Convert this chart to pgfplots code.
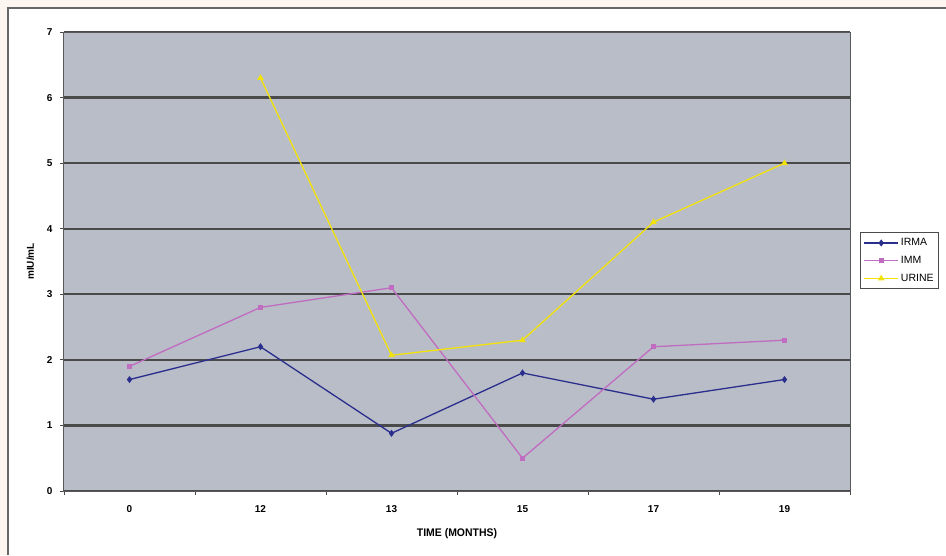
\documentclass[border=0pt]{standalone}
\usepackage{pgfplots}
\pgfplotsset{compat=1.18}
\usepackage{fontspec}
\setmainfont{Liberation Sans}
\definecolor{bgcream}{HTML}{FDF5F0}
\definecolor{plotbg}{HTML}{B9BDC8}
\definecolor{gridc}{HTML}{4A4A4A}
\definecolor{irma}{HTML}{2A2E8C}
\definecolor{imm}{HTML}{C06CC0}
\definecolor{urine}{HTML}{F2E20A}
\begin{document}
\begin{tikzpicture}[x=1pt,y=1pt]
\path[use as bounding box] (0,0) rectangle (946,555);
\fill[bgcream] (0,0) rectangle (946,555);
\fill[white] (8,0) rectangle (946,547);
\draw[gray!80!black,line width=1.5pt] (8,0) -- (8,547) -- (946,547);
\begin{axis}[
  at={(64pt,64pt)}, anchor=south west,
  scale only axis, width=786pt, height=459pt,
  xmin=-0.5, xmax=5.5, ymin=0, ymax=7,
  axis background/.style={fill=plotbg},
  xtick={0,1,2,3,4,5},
  xticklabels={0,12,13,15,17,19},
  major x tick style={draw=none},
  minor xtick={-0.5,0.5,1.5,2.5,3.5,4.5,5.5},
  ytick={0,1,2,3,4,5,6,7},
  xtick pos=lower, ytick pos=left,
  tick align=outside,
  major tick length=4pt, minor tick length=4pt,
  tick style={gridc, line width=0.8pt},
  ymajorgrids,
  grid style={gridc, line width=2.2pt},
  axis line style={gray!70!black, line width=1pt},
  tick label style={font=\fontsize{10}{12}\selectfont\bfseries},
  xticklabel style={yshift=-7pt},
  yticklabel style={xshift=-4pt},
  /pgf/number format/assume math mode=true,
  xlabel={\scalebox{0.95}[1]{TIME (MONTHS)}},
  ylabel={mIU/mL},
  label style={font=\fontsize{10}{11}\selectfont\bfseries},
  xlabel style={yshift=-9pt, font=\fontsize{11}{12}\selectfont\bfseries},
  ylabel style={yshift=6pt},
  legend style={at={(1.0127,0.564)}, anchor=north west, draw=gray!60!black, line width=1pt,
    font=\fontsize{10.5}{12}\selectfont, row sep=5pt, inner xsep=3pt, inner ysep=4pt, cells={anchor=west}},
  legend image code/.code={\draw[line width=1.3pt, mark repeat=2,mark phase=2] plot coordinates {(0cm,0cm)(0.6cm,0cm)(1.2cm,0cm)};},
  legend cell align=left,
]
\addplot[irma, line width=1.3pt, mark=diamond*, mark size=2.5pt] coordinates {(0,1.7) (1,2.2) (2,0.88) (3,1.8) (4,1.4) (5,1.7)};
\addlegendentry{IRMA}
\addplot[imm, line width=1.3pt, mark=square*, mark size=2pt] coordinates {(0,1.9) (1,2.8) (2,3.1) (3,0.5) (4,2.2) (5,2.3)};
\addlegendentry{IMM}
\addplot[urine, line width=1.3pt, mark=triangle*, mark size=2.5pt] coordinates {(1,6.3) (2,2.07) (3,2.3) (4,4.1) (5,5.0)};
\addlegendentry{URINE}
\end{axis}
\end{tikzpicture}
\end{document}
